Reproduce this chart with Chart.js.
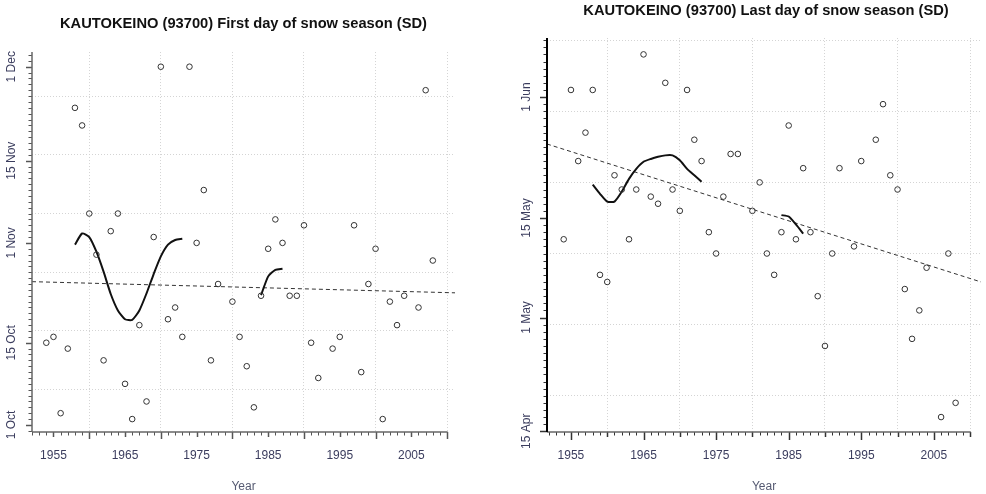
<!DOCTYPE html>
<html>
<head>
<meta charset="utf-8">
<script src="https://cdn.jsdelivr.net/npm/chart.js@4.4.1/dist/chart.umd.min.js"></script>
<style>
  body { margin: 0; background: #fff; }
  #wrap { position: relative; width: 986px; height: 494px; overflow: hidden; }
  .panel { position: absolute; top: 0; width: 493px; height: 494px; }
</style>
</head>
<body>
<div id="wrap">
  <div class="panel" style="left:0"><canvas id="firstDay" width="493" height="494"></canvas></div>
  <div class="panel" style="left:493px"><canvas id="lastDay" width="493" height="494"></canvas></div>
</div>
<script>
// years of the record, day of year for each season (null = missing year)
const years = [1954, 1955, 1956, 1957, 1958, 1959, 1960, 1961, 1962, 1963,
  1964, 1965, 1966, 1967, 1968, 1969, 1970, 1971, 1972, 1973,
  1974, 1975, 1976, 1977, 1978, 1979, 1980, 1981, 1982, 1983,
  1984, 1985, 1986, 1987, 1988, 1989, 1990, 1991, 1992, 1993,
  1994, 1995, 1996, 1997, 1998, 1999, 2000, 2001, 2002, 2003,
  2004, 2005, 2006, 2007, 2008];

const firstDay = [288, 289, 276, 287, 328, 325, 310, 303, 285, 307,
  310, 281, 275, 291, 278, 306, 335, 292, 294, 289,
  335, 305, 314, 285, 298, null, 295, 289, 284, 277,
  296, 304, 309, 305, 296, 296, 308, 288, 282, null,
  287, 289, null, 308, 283, 298, 304, 275, 295, 291,
  296, null, 294, 331, 302];

const firstSmooth = [null, null, null, null, 304.7, 306.6, 306.0, 303.5, 300.1, 296.3,
  293.5, 292.0, 291.9, 293.5, 296.4, 299.7, 302.7, 304.7, 305.5, 305.7,
  null, null, null, null, null, null, null, null, null, null,
  296.1, 299.3, 300.4, 300.6, null, null, null, null, null, null,
  null, null, null, null, null, null, null, null, null, null,
  null, null, null, null, null];

const lastDay = [132, 153, 143, 147, 153, 127, 126, 141, 139, 132,
  139, 158, 138, 137, 154, 139, 136, 153, 146, 143,
  133, 130, 138, 144, 144, null, 136, 140, 130, 127,
  133, 148, 132, 142, 133, 124, 117, 130, 142, null,
  131, 143, null, 146, 151, 141, 139, 125, 118, 122,
  128, null, 107, 130, 109];

const lastSmooth = [null, null, null, null, 139.7, 138.4, 137.3, 137.3, 138.7, 140.5,
  141.9, 142.9, 143.3, 143.6, 143.8, 143.8, 143.1, 141.9, 141.0, 140.1,
  null, null, null, null, null, null, null, null, null, null,
  135.4, 135.2, 134.1, 132.8, null, null, null, null, null, null,
  null, null, null, null, null, null, null, null, null, null,
  null, null, null, null, null];

// linear trends, end points at the plot edges
const firstTrendYears = [1952.0, 2011.1];
const firstTrend = [298.4, 296.5];
const lastTrendYears = [1951.7, 2011.5];
const lastTrend = [145.4, 126.0];

// tick labels
const yearLabels = [1955, 1965, 1975, 1985, 1995, 2005];
const decadeYears = [1960, 1970, 1980, 1990, 2000, 2010];
const firstTickDays = [274, 288, 305, 319, 335];
const firstTickLabels = ['1 Oct', '15 Oct', '1 Nov', '15 Nov', '1 Dec'];
const lastTickDays = [105, 121, 135, 152];
const lastTickLabels = ['15 Apr', '1 May', '15 May', '1 Jun'];
const firstGridDays = [280, 290, 300, 310, 320, 330];
const lastGridDays = [110, 120, 130, 140, 150, 160];

const FONT = '"Liberation Sans", Arial, sans-serif';
const toXY = (xs, ys) => xs.map((x, i) => ({ x: x, y: ys[i] }));

// draws R-like axes: line, a tick for every year / day, labels
function axesPlugin(ax) {
  return {
    id: 'rAxes',
    afterDraw(chart) {
      const ctx = chart.ctx;
      const a = chart.chartArea;
      const x = chart.scales.x, y = chart.scales.y;
      const seg = (x1, y1, x2, y2) => {
        ctx.beginPath(); ctx.moveTo(x1, y1); ctx.lineTo(x2, y2); ctx.stroke();
      };
      ctx.save();

      // ticks on y, one per day
      ctx.strokeStyle = ax.tickColor;
      for (let d = Math.ceil(y.min); d <= y.max; d++) {
        const py = Math.round(y.getPixelForValue(d)) + 0.5;
        const major = ax.tickDays.includes(d);
        ctx.lineWidth = major ? 1.5 : 1;
        seg(a.left, py, a.left - (major ? ax.yMajorLen : 3.5), py);
      }
      // ticks on x, one per year
      const lastYear = decadeYears[decadeYears.length - 1];
      for (let yr = Math.ceil(x.min); yr <= lastYear; yr++) {
        const px = Math.round(x.getPixelForValue(yr)) + 0.5;
        let len = 3.5;
        if (decadeYears.includes(yr)) len = ax.decadeLen;
        if (yearLabels.includes(yr)) len = ax.labelLen;
        ctx.lineWidth = len > 4 ? 1.5 : 1;
        seg(px, a.bottom, px, a.bottom + len);
      }

      // axis lines
      ctx.strokeStyle = ax.xAxisColor;
      ctx.lineWidth = 1.5;
      seg(a.left, a.bottom, x.getPixelForValue(lastYear) + 0.5, a.bottom);
      ctx.strokeStyle = ax.yAxisColor;
      ctx.lineWidth = ax.yAxisWidth;
      seg(a.left, a.top, a.left, a.bottom);

      // labels
      ctx.fillStyle = '#3b3d5e';
      ctx.font = '12px ' + FONT;
      ctx.textAlign = 'center';
      ctx.textBaseline = 'middle';
      yearLabels.forEach(yr => ctx.fillText(String(yr), x.getPixelForValue(yr), a.bottom + 24));
      ax.tickDays.forEach((d, i) => {
        ctx.save();
        ctx.translate(a.left - 20, y.getPixelForValue(d));
        ctx.rotate(-Math.PI / 2);
        ctx.fillText(ax.tickLabels[i], 0, 0);
        ctx.restore();
      });
      ctx.fillStyle = '#555a72';
      ctx.fillText('Year', (a.left + a.right) / 2, a.bottom + 55);
      ctx.restore();
    }
  };
}

function makePanel(id, p) {
  return new Chart(document.getElementById(id), {
    type: 'scatter',
    data: {
      datasets: [
        {
          data: toXY(years, p.values),
          showLine: false,
          pointRadius: 2.8,
          pointBorderWidth: 1,
          pointBorderColor: '#333',
          pointBackgroundColor: 'rgba(0,0,0,0)'
        },
        {
          data: toXY(years, p.smooth),
          showLine: true,
          spanGaps: false,
          borderColor: '#111',
          borderWidth: 2,
          tension: 0.2,
          pointRadius: 0
        },
        {
          data: toXY(p.trendYears, p.trend),
          showLine: true,
          borderColor: '#333',
          borderWidth: 1,
          borderDash: [4, 3],
          pointRadius: 0
        }
      ]
    },
    options: {
      responsive: false,
      animation: false,
      layout: { padding: p.padding },
      plugins: {
        legend: { display: false },
        tooltip: { enabled: false },
        title: {
          display: true,
          text: p.title,
          color: '#111',
          font: { family: FONT, size: 14.7, weight: 'bold' },
          padding: p.titlePadding
        }
      },
      scales: {
        x: {
          type: 'linear',
          min: p.xMin, max: p.xMax,
          afterBuildTicks: s => { s.ticks = decadeYears.map(v => ({ value: v })); },
          afterFit: s => { s.height = 0; },
          ticks: { display: false },
          border: { display: false, dash: [1, 2] },
          grid: { color: '#d4d4d4', lineWidth: 1, drawTicks: false }
        },
        y: {
          type: 'linear',
          min: p.yMin, max: p.yMax,
          afterBuildTicks: s => { s.ticks = p.gridDays.map(v => ({ value: v })); },
          afterFit: s => { s.width = 0; },
          ticks: { display: false },
          border: { display: false, dash: [1, 2] },
          grid: { color: '#d4d4d4', lineWidth: 1, drawTicks: false }
        }
      }
    },
    plugins: [axesPlugin(p.axes)]
  });
}

makePanel('firstDay', {
  title: 'KAUTOKEINO (93700) First day of snow season (SD)',
  titlePadding: { top: 14.7, bottom: 19.7 },
  padding: { left: 32, right: 38, top: 0, bottom: 62 },
  values: firstDay, smooth: firstSmooth,
  trendYears: firstTrendYears, trend: firstTrend,
  xMin: 1952.0, xMax: 2011.1, yMin: 272.8, yMax: 337.5,
  gridDays: firstGridDays,
  axes: {
    tickDays: firstTickDays, tickLabels: firstTickLabels,
    yMajorLen: 6, decadeLen: 7, labelLen: 5,
    tickColor: '#555', xAxisColor: '#666', yAxisColor: '#666', yAxisWidth: 1.5
  }
});

makePanel('lastDay', {
  title: 'KAUTOKEINO (93700) Last day of snow season (SD)',
  titlePadding: { top: 1.7, bottom: 18.7 },
  padding: { left: 54, right: 1, top: 0, bottom: 62 },
  values: lastDay, smooth: lastSmooth,
  trendYears: lastTrendYears, trend: lastTrend,
  xMin: 1951.7, xMax: 2011.5, yMin: 104.9, yMax: 160.3,
  gridDays: lastGridDays,
  axes: {
    tickDays: lastTickDays, tickLabels: lastTickLabels,
    yMajorLen: 7, decadeLen: 5, labelLen: 8,
    tickColor: '#333', xAxisColor: '#666', yAxisColor: '#000', yAxisWidth: 2
  }
});
</script>
</body>
</html>
